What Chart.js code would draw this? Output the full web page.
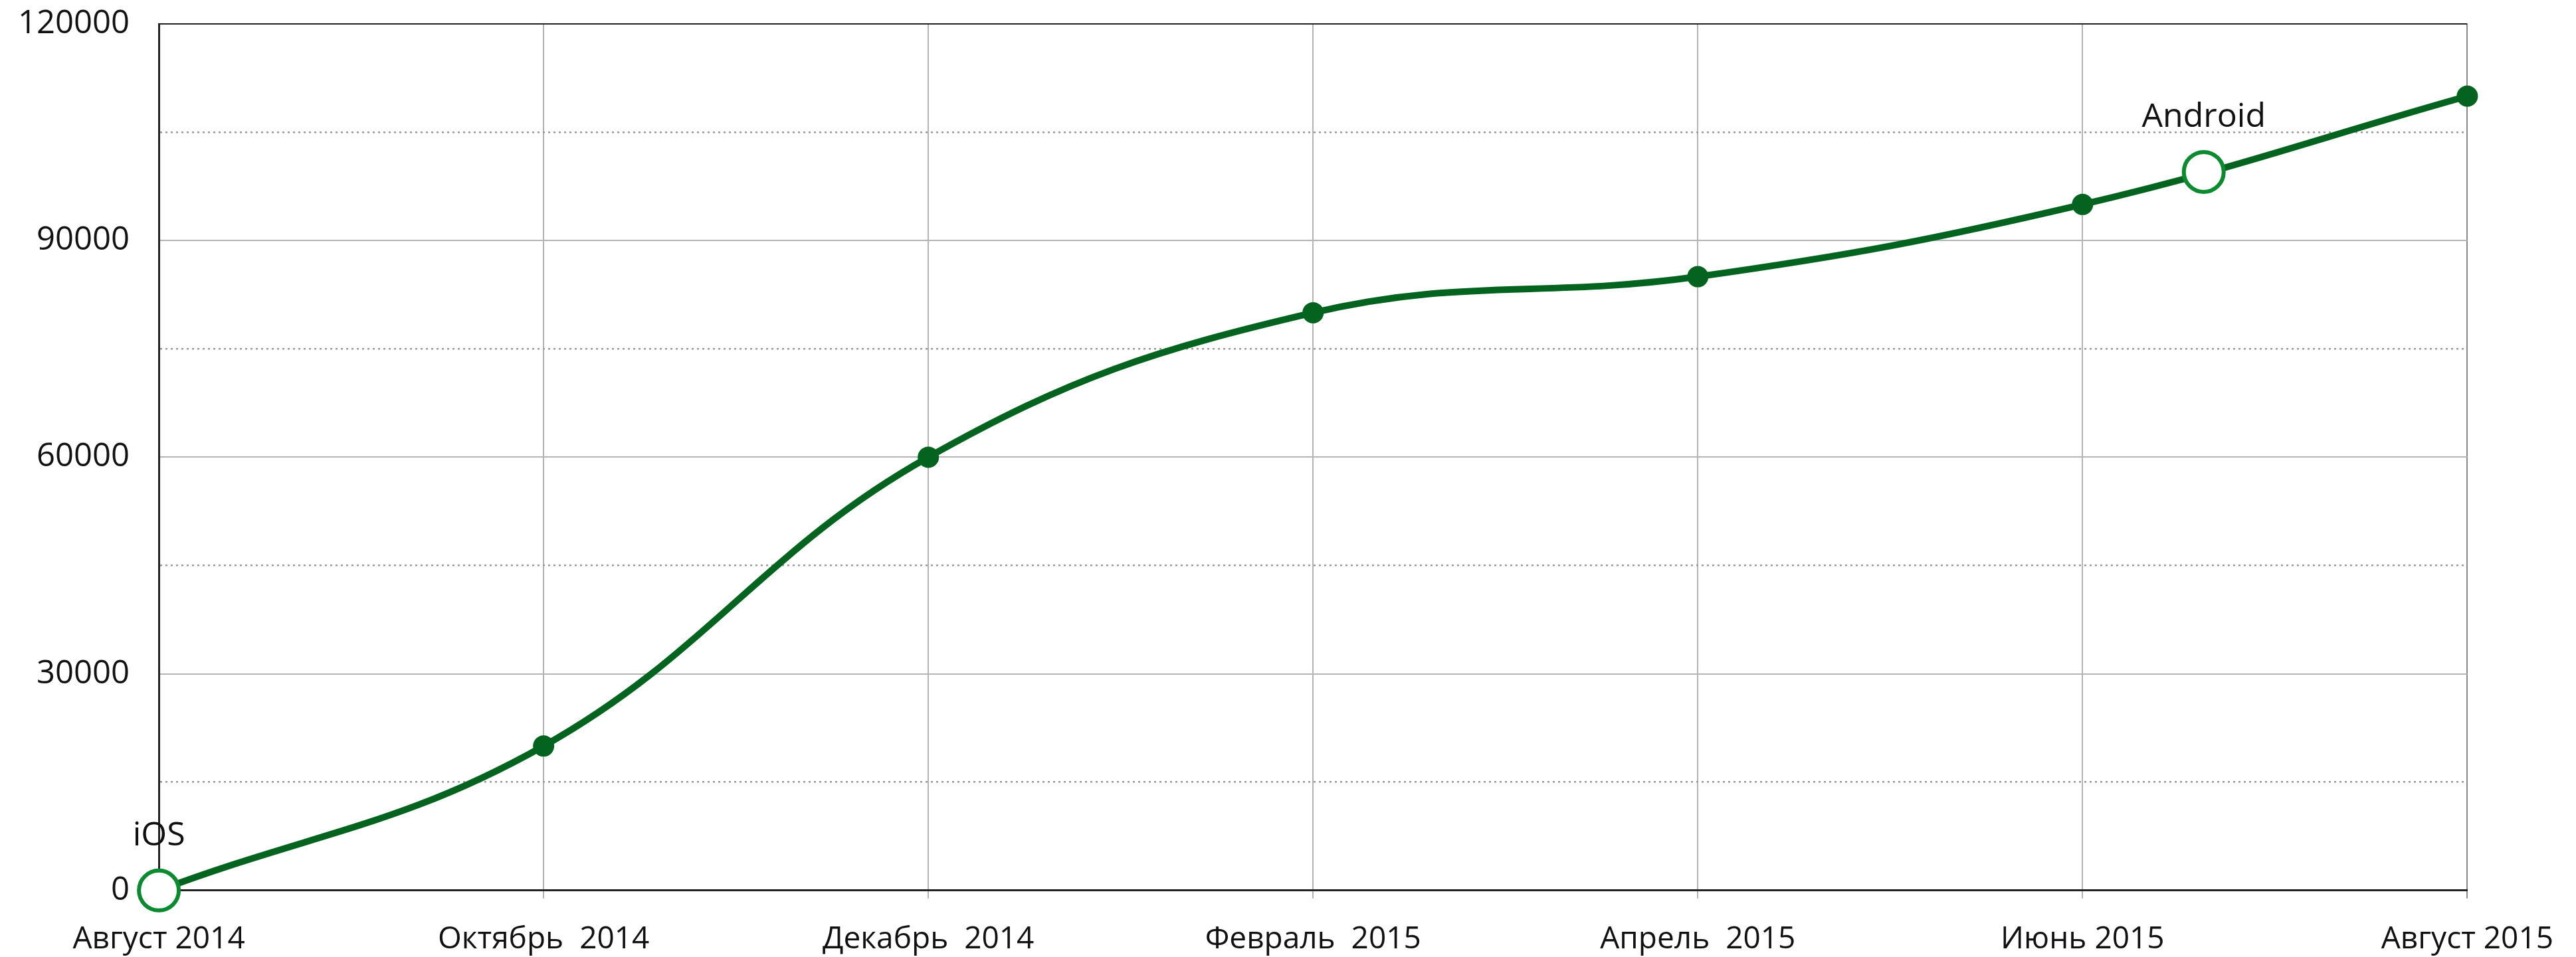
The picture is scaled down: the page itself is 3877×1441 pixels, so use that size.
<!DOCTYPE html>
<html>
<head>
<meta charset="utf-8">
<script src="https://cdn.jsdelivr.net/npm/chart.js@4"></script>
<style>
  html, body { margin: 0; padding: 0; background: #fff; }
  canvas { display: block; }
</style>
</head>
<body>
<canvas id="myChart" width="3877" height="1441"></canvas>
<script>
// данные
const months = ['Август 2014', 'Октябрь  2014', 'Декабрь  2014', 'Февраль  2015', 'Апрель  2015', 'Июнь 2015', 'Август 2015'];
const users = [0, 20000, 60000, 80000, 85000, 95000, 110000];
const yLabels = [0, 30000, 60000, 90000, 120000];

// отметки платформ (положение по оси месяцев)
const markerNames = ['iOS', 'Android'];
const markerPos = [0, 5.315];
const markerValues = [0, 99500];

const darkGreen = '#04641f';
const lightGreen = '#0b8a30';

Chart.defaults.font.family = "'Open Sans', sans-serif";
Chart.defaults.font.size = 46;
Chart.defaults.color = '#111';

// подписи над отметками
const markerText = {
  id: 'markerText',
  afterDatasetsDraw(chart) {
    const { ctx, scales: { x, y } } = chart;
    ctx.save();
    ctx.font = "50px 'Open Sans', sans-serif";
    ctx.fillStyle = '#111';
    ctx.textAlign = 'center';
    ctx.textBaseline = 'middle';
    markerNames.forEach((name, i) => {
      ctx.fillText(name, x.getPixelForValue(markerPos[i]), y.getPixelForValue(markerValues[i]) - 82);
    });
    ctx.restore();
  }
};

const ctx = document.getElementById('myChart').getContext('2d');
new Chart(ctx, {
  type: 'line',
  data: {
    datasets: [
      {
        label: 'platforms',
        data: markerPos.map((p, i) => ({ x: p, y: markerValues[i] })),
        showLine: false,
        pointRadius: 30,
        pointBorderWidth: 6,
        pointBorderColor: lightGreen,
        pointBackgroundColor: '#fff',
        clip: false
      },
      {
        label: 'users',
        data: users.map((v, i) => ({ x: i, y: v })),
        borderColor: darkGreen,
        borderWidth: 10,
        tension: 0.4,
        pointRadius: 16,
        pointBorderWidth: 0,
        pointBackgroundColor: darkGreen,
        clip: false
      }
    ]
  },
  options: {
    responsive: false,
    animation: false,
    layout: { padding: { left: 23, right: 30, top: 0, bottom: -35 } },
    plugins: {
      legend: { display: false },
      tooltip: { enabled: false }
    },
    scales: {
      x: {
        type: 'linear',
        min: 0,
        max: months.length - 1,
        ticks: {
          stepSize: 1,
          autoSkip: false,
          maxRotation: 0,
          padding: 34,
          callback: (v) => months[v]
        },
        grid: {
          color: (c) => (c.tick && c.tick.value === months.length - 1 ? '#888' : '#b4b4b4'),
          lineWidth: 2,
          tickLength: 12
        },
        border: { color: '#222', width: 3 }
      },
      y: {
        min: 0,
        max: 120000,
        ticks: {
          stepSize: 15000,
          padding: 4,
          font: { size: 49 },
          callback: (v) => (yLabels.includes(v) ? String(v) : '')
        },
        grid: {
          color: (c) => {
            if (!c.tick) return '#b4b4b4';
            if (c.tick.value === 120000) return '#222';
            return c.tick.value % 30000 === 0 ? '#b4b4b4' : '#999';
          },
          lineWidth: (c) => (c.tick && c.tick.value % 30000 !== 0 ? 2.5 : 2),
          tickLength: 40,
          tickColor: 'rgba(0,0,0,0)'
        },
        border: {
          color: '#222',
          width: 3,
          dash: (c) => (c.tick && c.tick.value % 30000 !== 0 ? [3, 5] : [])
        }
      }
    }
  },
  plugins: [markerText]
});
</script>
</body>
</html>
